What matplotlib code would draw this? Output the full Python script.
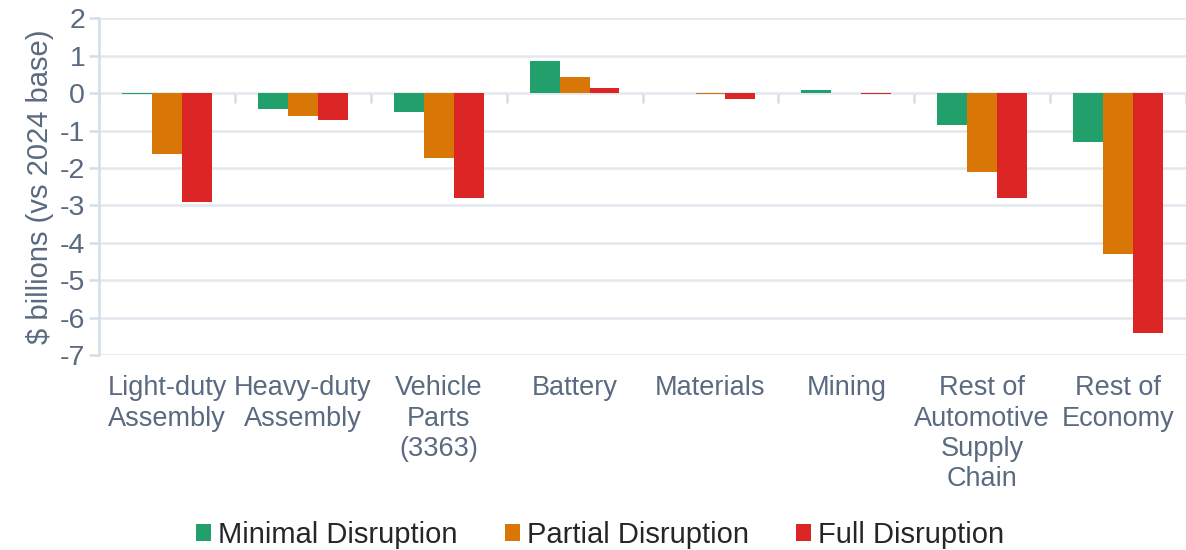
import matplotlib
matplotlib.use("Agg")
import matplotlib.pyplot as plt
import numpy as np

plt.rcParams['font.family'] = ['Liberation Sans', 'DejaVu Sans']

categories = ["Light-duty\nAssembly", "Heavy-duty\nAssembly", "Vehicle\nParts\n(3363)", "Battery",
              "Materials", "Mining", "Rest of\nAutomotive\nSupply\nChain", "Rest of\nEconomy"]
series_names = ["Minimal Disruption", "Partial Disruption", "Full Disruption"]
minimal = [-0.02, -0.42, -0.51, 0.87, 0.01, 0.08, -0.85, -1.3]
partial = [-1.62, -0.62, -1.72, 0.44, -0.03, 0.0, -2.1, -4.3]
full = [-2.92, -0.72, -2.81, 0.13, -0.15, -0.03, -2.8, -6.4]
colors = ["#21a06c", "#d97706", "#dc2626"]
yticks = [2, 1, 0, -1, -2, -3, -4, -5, -6, -7]

text_col = "#5a6a80"
grid_col = "#e3e8ef"
spine_col = "#d5dde7"

fig = plt.figure(figsize=(11.86, 5.5), dpi=100)
ax = fig.add_axes([0.0835, 0.3545, 0.9165, 0.612])

x = np.arange(len(categories))
w = 0.22
for k, (vals, name) in enumerate(zip([minimal, partial, full], series_names)):
    ax.bar(x + (k - 1) * w, vals, width=w, color=colors[k], label=name, zorder=3)

ax.set_xlim(-0.5, len(categories) - 0.5)
ax.set_ylim(-7, 2)
ax.set_yticks(yticks)
ax.set_yticklabels([str(t) for t in yticks])
ax.yaxis.grid(True, color=grid_col, linewidth=1.8, zorder=0)
ax.set_axisbelow(True)

for s in ["top", "right", "bottom"]:
    ax.spines[s].set_visible(False)
ax.spines["left"].set_color(spine_col)
ax.spines["left"].set_linewidth(1.8)
ax.tick_params(axis="y", colors=spine_col, labelcolor=text_col, labelsize=20.5, length=7, width=1.8, pad=3)

ax.set_xticks(x)
ax.set_xticklabels(categories, linespacing=1.22)
ax.tick_params(axis="x", length=0, labelsize=19.5, labelcolor=text_col, pad=14.5)
for lab in ax.get_xticklabels():
    lab.set_verticalalignment("top")

ax.set_ylabel("\\$ billions (vs 2024 base)", fontsize=21, color=text_col, labelpad=4)

# zero line with category-boundary ticks
loc0 = (0 - (-7)) / (2 - (-7))
sec = ax.secondary_xaxis(loc0)
sec.set_xticks(np.arange(len(categories) + 1) - 0.5)
sec.tick_params(axis="x", direction="out", length=7, width=1.8, colors=spine_col, labelbottom=False, labeltop=False,
                bottom=True, top=False)
sec.xaxis.set_ticks_position("bottom")
sec.set_xticklabels([])
sec.spines["bottom"].set_color(spine_col)
sec.spines["bottom"].set_linewidth(1.8)
sec.spines["top"].set_visible(False)

handles, labels = ax.get_legend_handles_labels()
leg = fig.legend(handles, labels, loc="center", bbox_to_anchor=(0.506, 0.027), ncol=3, frameon=False,
                 fontsize=21, handlelength=0.52, handleheight=0.52, handletextpad=0.25, columnspacing=1.6)
for t in leg.get_texts():
    t.set_color("#262626")

fig.savefig("out.png", dpi=100)
